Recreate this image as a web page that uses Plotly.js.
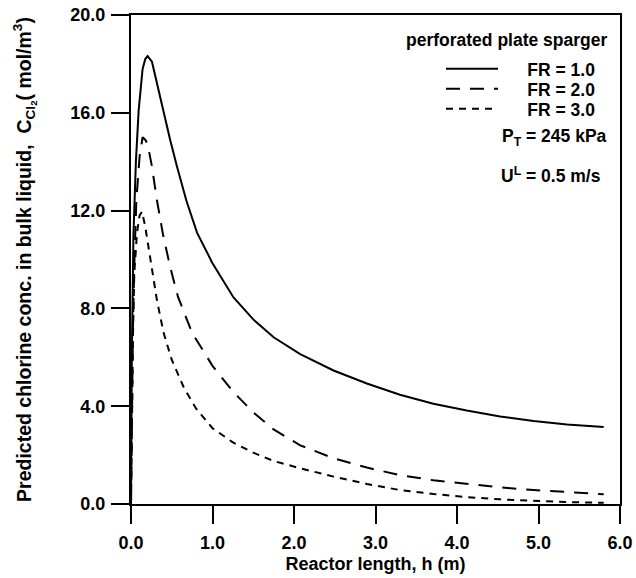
<!DOCTYPE html>
<html>
<head>
<meta charset="utf-8">
<script src="https://cdn.plot.ly/plotly-3.0.1.min.js"></script>
<style>html,body{margin:0;padding:0;background:#fff;}#chart{width:636px;height:578px;}</style>
</head>
<body>
<div id="chart"></div>
<script>
// Reactor length h (m) and predicted chlorine concentration (mol/m3)
var hFR1 = [0, 0.01, 0.03, 0.06, 0.094, 0.142, 0.175, 0.204, 0.257, 0.32, 0.40, 0.48, 0.564, 0.68, 0.81, 1.0, 1.258, 1.5, 1.75, 2.076, 2.485, 2.894, 3.30, 3.71, 4.12, 4.53, 4.94, 5.35, 5.80];
var cFR1 = [0, 6.0, 11.0, 14.0, 16.1, 17.78, 18.2, 18.32, 18.09, 17.2, 15.98, 14.9, 13.8, 12.4, 11.1, 9.85, 8.45, 7.55, 6.82, 6.13, 5.46, 4.93, 4.47, 4.10, 3.82, 3.58, 3.39, 3.25, 3.15];

var hFR2 = [0, 0.01, 0.025, 0.04, 0.065, 0.105, 0.142, 0.175, 0.204, 0.257, 0.318, 0.39, 0.48, 0.576, 0.75, 1.0, 1.25, 1.5, 1.75, 2.076, 2.485, 2.894, 3.30, 3.71, 4.12, 4.53, 4.94, 5.35, 5.80];
var cFR2 = [0, 4.0, 7.5, 9.7, 12.4, 14.2, 15.0, 14.9, 14.72, 13.8, 12.43, 11.07, 9.7, 8.48, 7.0, 5.65, 4.6, 3.75, 3.05, 2.40, 1.87, 1.49, 1.18, 0.97, 0.82, 0.68, 0.57, 0.48, 0.40];

var hFR3 = [0, 0.01, 0.025, 0.04, 0.073, 0.105, 0.135, 0.175, 0.228, 0.277, 0.318, 0.4, 0.5, 0.65, 0.8, 1.0, 1.25, 1.5, 1.75, 2.076, 2.485, 2.894, 3.30, 3.71, 4.12, 4.53, 4.94, 5.35, 5.80];
var cFR3 = [0, 3.5, 7.0, 9.4, 11.07, 11.8, 11.96, 11.34, 10.25, 9.16, 8.34, 7.0, 5.9, 4.75, 3.9, 3.1, 2.52, 2.1, 1.76, 1.46, 1.12, 0.82, 0.57, 0.41, 0.28, 0.19, 0.13, 0.08, 0.05];

var seriesNames = ["FR = 1.0", "FR = 2.0", "FR = 3.0"];
var legendTitle = "perforated plate sparger";
var xTicks = [0, 1, 2, 3, 4, 5, 6];
var yTicks = [0, 4, 8, 12, 16, 20];

var padL = "\u00a0\u00a0\u00a0\u00a0\u00a0";
var padR = "\u00a0\u00a0\u00a0\u00a0";
function tr(x, y, name, dash, leg) {
  return {x: x, y: y, type: 'scatter', mode: 'lines', name: padL + name + padR, legend: leg,
    line: {color: '#000', width: 2, dash: dash}, hoverinfo: 'skip'};
}
var data = [
  tr(hFR1, cFR1, seriesNames[0], 'solid', 'legend'),
  tr(hFR2, cFR2, seriesNames[1], '14px,10px', 'legend2'),
  tr(hFR3, cFR3, seriesNames[2], '7px,6px', 'legend3')
];

var fontFam = 'Liberation Sans, Arial, sans-serif';
var txtFont = {family: fontFam, size: 17.5, color: '#000', weight: 'bold'};
function leg(y) {
  return {x: 1, xanchor: 'right', y: y, yanchor: 'top',
    bgcolor: 'rgba(0,0,0,0)', borderwidth: 0, font: txtFont, itemwidth: 52};
}
var layout = {
  width: 636, height: 578,
  margin: {l: 131, r: 16, t: 15, b: 74},
  paper_bgcolor: '#fff', plot_bgcolor: '#fff',
  font: {family: fontFam, size: 18, color: '#000', weight: 'bold'},
  showlegend: true,
  legend: leg(0.9264),
  legend2: leg(0.8855),
  legend3: leg(0.8446),
  xaxis: {
    range: [0, 6], tickvals: xTicks, tickformat: '.1f',
    showgrid: false, zeroline: false,
    showline: true, linewidth: 2, linecolor: '#000', mirror: true,
    ticks: 'outside', ticklen: 18, tickwidth: 2, tickcolor: '#000',
    ticklabelstandoff: 3,
    tickfont: {family: fontFam, size: 18, color: '#000', weight: 'bold'},
    title: {text: 'Reactor length, h (m)', standoff: 6, font: {family: fontFam, size: 18, color: '#000', weight: 'bold'}}
  },
  yaxis: {
    range: [0, 20], tickvals: yTicks, tickformat: '.1f',
    showgrid: false, zeroline: false,
    showline: true, linewidth: 2, linecolor: '#000', mirror: true,
    ticks: 'outside', ticklen: 18, tickwidth: 2, tickcolor: '#000',
    ticklabelstandoff: 2,
    tickfont: {family: fontFam, size: 18, color: '#000', weight: 'bold'},
    title: {text: 'Predicted chlorine conc. in bulk liquid,  C<sub>Cl<sub>2</sub></sub>( mol/m<sup>3</sup>)', standoff: 34,
      font: {family: fontFam, size: 19.5, color: '#000', weight: 'bold'}}
  },
  annotations: [
    {xref: 'paper', yref: 'paper', x: 0.9796, y: 0.949, xanchor: 'right', yanchor: 'middle', showarrow: false,
     text: legendTitle, font: txtFont},
    {xref: 'paper', yref: 'paper', x: 0.977, y: 0.749, xanchor: 'right', yanchor: 'middle', showarrow: false,
     text: 'P<sub>T</sub> = 245 kPa', font: txtFont},
    {xref: 'paper', yref: 'paper', x: 0.965, y: 0.672, xanchor: 'right', yanchor: 'middle', showarrow: false,
     text: 'U<sup>L</sup> = 0.5 m/s', font: txtFont}
  ]
};
Plotly.newPlot('chart', data, layout, {displayModeBar: false, staticPlot: true});
</script>
</body>
</html>
